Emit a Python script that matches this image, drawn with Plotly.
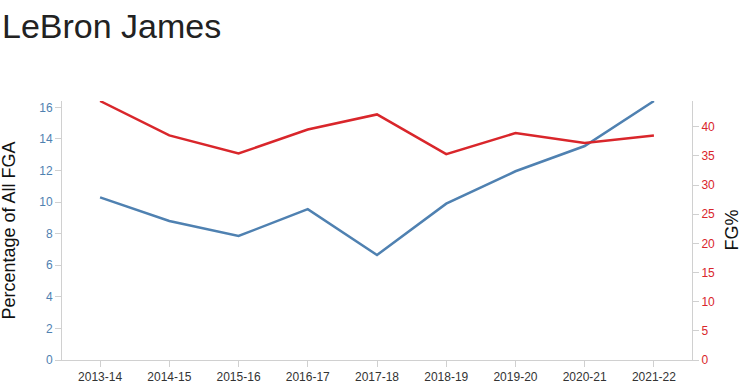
import plotly.graph_objects as go

seasons = ["2013-14", "2014-15", "2015-16", "2016-17", "2017-18",
           "2018-19", "2019-20", "2020-21", "2021-22"]
pct_fga = [10.3, 8.8, 7.85, 9.55, 6.65, 9.9, 11.95, 13.55, 16.4]
fg_pct = [44.4, 38.5, 35.4, 39.5, 42.1, 35.3, 38.9, 37.2, 38.5]

BLUE = "#4f81b1"
RED = "#d9262b"
FONT = "Liberation Sans, Arial, Helvetica, sans-serif"

fig = go.Figure()
fig.add_trace(go.Scatter(x=seasons, y=pct_fga, mode="lines", yaxis="y",
                         line=dict(color=BLUE, width=2.5), name="% of FGA",
                         hoverinfo="x+y"))
fig.add_trace(go.Scatter(x=seasons, y=fg_pct, mode="lines", yaxis="y2",
                         line=dict(color=RED, width=2.5), name="FG%",
                         hoverinfo="x+y"))

fig.update_layout(
    width=750, height=384,
    margin=dict(l=62, r=58, t=101, b=24, autoexpand=False),
    paper_bgcolor="white", plot_bgcolor="white",
    showlegend=False,
    font=dict(family=FONT, size=12, color="#333"),
    xaxis=dict(type="category", range=[-0.55, 8.55], showgrid=False,
               showline=True, linecolor="#d0d0d0", linewidth=1,
               ticks="outside", ticklen=6, tickcolor="#d0d0d0",
               automargin=False,
               tickfont=dict(size=12, color="#333"), zeroline=False),
    yaxis=dict(range=[0, 16.4], showgrid=False, zeroline=False,
               tickvals=[0, 2, 4, 6, 8, 10, 12, 14, 16], automargin=False,
               showline=True, linecolor="#d0d0d0", linewidth=1,
               ticks="outside", ticklen=6, tickcolor="#d0d0d0",
               tickfont=dict(size=12, color=BLUE)),
    yaxis2=dict(range=[0, 44.4], overlaying="y", side="right",
                showgrid=False, zeroline=False, automargin=False,
                tickvals=[0, 5, 10, 15, 20, 25, 30, 35, 40],
                showline=True, linecolor="#d0d0d0", linewidth=1,
                ticks="outside", ticklen=6, tickcolor="#d0d0d0",
                tickfont=dict(size=12, color=RED)),
    annotations=[
        dict(text="LeBron James", xref="paper", yref="paper",
             x=0, y=1, xanchor="left", yanchor="middle",
             xshift=-62, yshift=75, showarrow=False,
             font=dict(family=FONT, size=34, color="#222")),
        dict(text="Percentage of All FGA", xref="paper", yref="paper",
             x=0, y=0.5, xanchor="center", yanchor="middle", xshift=-54,
             textangle=-90, showarrow=False,
             font=dict(family=FONT, size=18, color="#111")),
        dict(text="FG%", xref="paper", yref="paper",
             x=1, y=0.5, xanchor="center", yanchor="middle", xshift=39,
             textangle=-90, showarrow=False,
             font=dict(family=FONT, size=18, color="#111")),
    ],
)

fig.write_html(
    "out.html",
    config={"displayModeBar": False},
    post_script="document.body.style.margin='0';document.body.style.overflow='hidden';",
)
